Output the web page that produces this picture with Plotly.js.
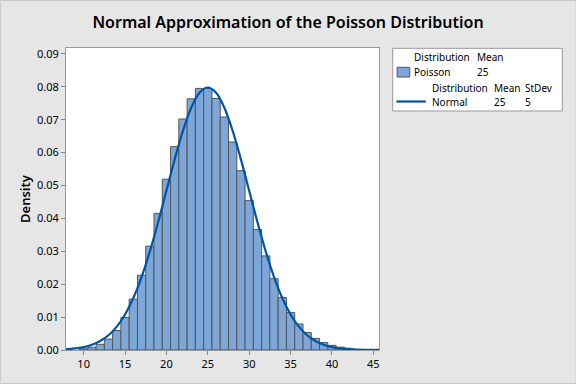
<!DOCTYPE html>
<html>
<head>
<meta charset="utf-8">
<script src="https://cdn.plot.ly/plotly-3.0.1.min.js"></script>
<style>
html,body{margin:0;padding:0;background:#e6e6e6;}
#chart{width:576px;height:384px;}
</style>
</head>
<body>
<div id="chart"></div>
<script>
// Poisson (mean 25) bar heights
const poissonX = [10,11,12,13,14,15,16,17,18,19,20,21,22,23,24,25,26,27,28,29,30,31,32,33,34,35,36,37,38,39,40,41,42];
const poissonY = [0.00037,0.00083,0.00173,0.00332,0.00593,0.00989,0.01545,0.02273,0.03157,0.04153,0.05192,0.06181,0.07023,0.07634,0.07952,0.07952,0.07646,0.07080,0.06321,0.05449,0.04541,0.03662,0.02861,0.02167,0.01594,0.01138,0.00791,0.00534,0.00351,0.00225,0.00141,0.00086,0.00052];

// Normal (mean 25, sd 5) curve points
const normalX = [7.8,8,9,10,11,12,13,14,15,16,17,18,19,20,21,22,23,24,25,26,27,28,29,30,31,32,33,34,35,36,37,38,39,40,41,42,43,44,45,45.7];
const normalY = [0.00021,0.00025,0.00048,0.00089,0.00158,0.00272,0.00448,0.00709,0.01080,0.01579,0.02218,0.02995,0.03884,0.04839,0.05794,0.06664,0.07365,0.07821,0.07979,0.07821,0.07365,0.06664,0.05794,0.04839,0.03884,0.02995,0.02218,0.01579,0.01080,0.00709,0.00448,0.00272,0.00158,0.00089,0.00048,0.00025,0.00012,0.00006,0.00003,0.00002];

const xTicks = [10,15,20,25,30,35,40,45];
const yTicks = [0,0.01,0.02,0.03,0.04,0.05,0.06,0.07,0.08,0.09];
const yTickText = ["0.00","0.01","0.02","0.03","0.04","0.05","0.06","0.07","0.08","0.09"];

const FONT = "'Noto Sans', 'Open Sans', sans-serif";
const BAR_COLOR = "#7da7d9";
const LINE_COLOR = "#0054a6";

const traces = [
  {
    type: "bar", x: poissonX, y: poissonY, width: 1,
    marker: {color: BAR_COLOR, line: {color: "#555555", width: 1}},
    hoverinfo: "x+y", showlegend: false
  },
  {
    type: "scatter", mode: "lines", x: normalX, y: normalY,
    line: {color: LINE_COLOR, width: 2.2, shape: "spline", smoothing: 1},
    showlegend: false
  }
];

// legend helpers (paper coordinates relative to plot area)
const L = 66, R = 378.6, T = 48, B = 350;
const px = v => (v - L) / (R - L);
const py = v => (B - v) / (B - T);
const legFont = {family: FONT, size: 10, color: "#000000"};
function txt(x, y, s) {
  return {xref: "paper", yref: "paper", x: px(x), y: py(y), text: s, showarrow: false,
          xanchor: "left", yanchor: "middle", font: legFont, borderpad: 0};
}

const layout = {
  width: 576, height: 384,
  paper_bgcolor: "#e6e6e6", plot_bgcolor: "#ffffff",
  margin: {l: L, r: 576 - R, t: T, b: 384 - B},
  font: {family: FONT, size: 11, color: "#000000"},
  title: {text: "Normal Approximation of the Poisson Distribution",
          font: {family: FONT, size: 16, color: "#000000", weight: 600},
          x: 0.5, xanchor: "center", y: 1 - 22/384, yanchor: "middle"},
  bargap: 0,
  xaxis: {range: [7.87, 45.68], tickvals: xTicks, ticktext: xTicks.map(String),
          ticks: "outside", ticklen: 4, tickcolor: "#888888",
          showline: true, linecolor: "#999999", mirror: true, showgrid: false, zeroline: false,
          tickfont: {family: FONT, size: 11, color: "#000000"}},
  yaxis: {range: [0, 0.0918], tickvals: yTicks, ticktext: yTickText,
          ticks: "outside", ticklen: 4, tickcolor: "#888888",
          showline: true, linecolor: "#999999", mirror: true, showgrid: false, zeroline: false,
          tickfont: {family: FONT, size: 11, color: "#000000"},
          title: {text: "Density", font: {family: FONT, size: 13, color: "#000000", weight: 600}, standoff: 3}},
  shapes: [
    // outer border
    {type: "rect", xref: "paper", yref: "paper", x0: px(0.5), x1: px(575.5), y0: py(0.5), y1: py(383.5),
     line: {color: "#c8c8c8", width: 1}, fillcolor: "rgba(0,0,0,0)"},
    // legend box
    {type: "rect", xref: "paper", yref: "paper", x0: px(392.3), x1: px(561.7), y0: py(111), y1: py(48.3),
     line: {color: "#999999", width: 1}, fillcolor: "#ffffff"},
    // Poisson swatch
    {type: "rect", xref: "paper", yref: "paper", x0: px(396.7), x1: px(409.3), y0: py(77), y1: py(67.3),
     line: {color: "#555555", width: 1}, fillcolor: BAR_COLOR},
    // Normal line swatch
    {type: "line", xref: "paper", yref: "paper", x0: px(396), x1: px(425.3), y0: py(101.5), y1: py(101.5),
     line: {color: LINE_COLOR, width: 2.2}}
  ],
  annotations: [
    txt(413, 57.3, "Distribution"), txt(475.5, 57.3, "Mean"),
    txt(413, 72.3, "Poisson"), txt(475.5, 72.3, "25"),
    txt(431, 88.3, "Distribution"), txt(492.5, 88.3, "Mean"), txt(523, 88.3, "StDev"),
    txt(431, 101.8, "Normal"), txt(492.5, 101.8, "25"), txt(523, 101.8, "5")
  ]
};

Plotly.newPlot("chart", traces, layout, {displayModeBar: false, staticPlot: true});
</script>
</body>
</html>
